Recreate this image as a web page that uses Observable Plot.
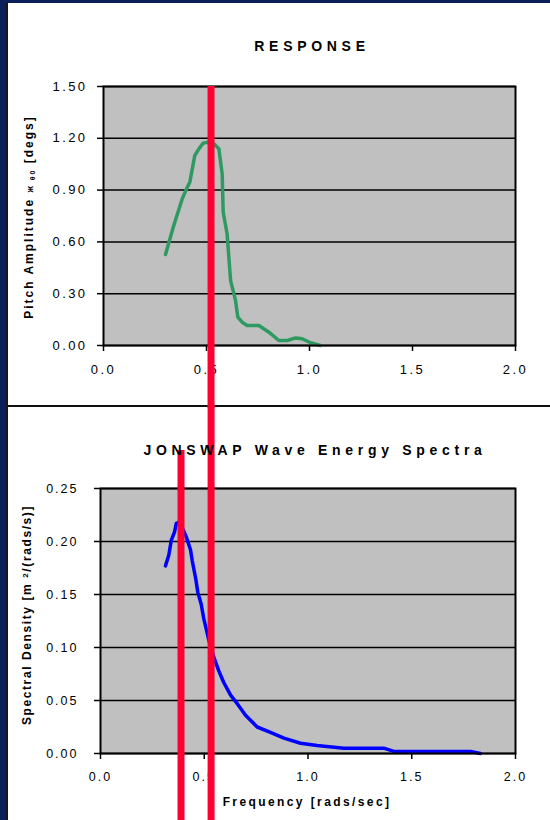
<!DOCTYPE html>
<html><head><meta charset="utf-8">
<script src="https://cdn.jsdelivr.net/npm/d3@7"></script>
<script src="https://cdn.jsdelivr.net/npm/@observablehq/plot@0.6"></script>
<style>
html,body{margin:0;padding:0;background:#0a1e5a;width:550px;height:820px;overflow:hidden;}
#panel{position:absolute;left:6px;top:3px;width:544px;height:817px;background:#fff;border-left:2px solid #161616;box-sizing:border-box;}
#topChart{position:absolute;left:0;top:0;width:542px;height:402px;z-index:2;}
#divider{position:absolute;left:0;top:402px;width:542px;height:2px;background:#111;z-index:1;}
#bottomChart{position:absolute;left:0;top:404px;width:542px;height:413px;z-index:3;}
svg{overflow:visible !important;}
#topChart svg text{letter-spacing:2.4px;}
#bottomChart svg text{letter-spacing:2px;}
</style>
</head><body>
<div id="panel">
  <div id="topChart"></div>
  <div id="divider"></div>
  <div id="bottomChart"></div>
</div>
<script>
// ---- data ----
const freqTicks = [0, 0.5, 1.0, 1.5, 2.0];
const pitchTicks = [0, 0.3, 0.6, 0.9, 1.2, 1.5];
const spectrumTicks = [0, 0.05, 0.10, 0.15, 0.20, 0.25];

const pitchFreq = [0.301,0.341,0.382,0.403,0.419,0.443,0.463,0.484,0.506,0.536,0.560,0.576,0.581,0.600,0.617,0.641,0.652,0.673,0.697,0.754,0.803,0.851,0.892,0.932,0.964,1.005,1.053];
const pitchAmp  = [0.527,0.695,0.849,0.907,0.946,1.100,1.139,1.172,1.177,1.168,1.139,0.994,0.772,0.647,0.376,0.261,0.164,0.135,0.116,0.116,0.077,0.029,0.029,0.044,0.039,0.016,0.000];

const specFreq    = [0.313,0.329,0.341,0.357,0.365,0.377,0.394,0.414,0.434,0.442,0.458,0.469,0.485,0.498,0.522,0.546,0.570,0.594,0.627,0.659,0.699,0.755,0.819,0.884,0.964,1.044,1.173,1.365,1.414,1.783,1.831];
const specDensity = [0.177,0.187,0.201,0.209,0.217,0.218,0.213,0.204,0.192,0.182,0.166,0.152,0.141,0.127,0.107,0.091,0.078,0.067,0.055,0.047,0.036,0.025,0.020,0.0145,0.0097,0.0075,0.005,0.005,0.002,0.002,0.000];

const topMarker = [0.522];          // frequency marked on the response chart
const bottomMarkers = [0.533];      // same frequency on the spectrum chart
const peakMarker = [0.388];         // spectral peak frequency

const pitchData = pitchFreq.map((f, i) => ({f, a: pitchAmp[i]}));
const specData = specFreq.map((f, i) => ({f, s: specDensity[i]}));

const RED = "#ff0033", GREEN = "#2e9a62", BLUE = "#0000ff", GRAY = "#c0c0c0";
const FONT = "'Liberation Sans', Arial, sans-serif";
const baseStyle = {fontFamily: FONT, fontSize: "13px", color: "#000", background: "transparent", overflow: "visible"};

// ---- top chart ----
const topPlot = Plot.plot({
  width: 542, height: 402,
  marginLeft: 95, marginRight: 35, marginTop: 83, marginBottom: 60,
  style: baseStyle,
  x: {domain: [0, 2], label: null},
  y: {domain: [0, 1.5], label: null},
  marks: [
    Plot.frame({fill: GRAY, stroke: null}),
    Plot.gridY(pitchTicks, {stroke: "#000", strokeOpacity: 1, strokeWidth: 1.5}),
    Plot.axisY(pitchTicks, {tickSize: 6, tickPadding: 10, tickFormat: d => d.toFixed(2), label: null, strokeWidth: 1.5, fontSize: 13}),
    Plot.axisX(freqTicks, {tickSize: 6, tickPadding: 13, tickFormat: d => d.toFixed(1), label: null, strokeWidth: 1.5, fontSize: 13}),
    Plot.line(pitchData, {x: "f", y: "a", stroke: GREEN, strokeWidth: 3.5}),
    Plot.frame({stroke: "#000", strokeWidth: 2}),
    Plot.ruleX(topMarker, {stroke: RED, strokeWidth: 7, insetBottom: -63})
  ]
});
document.getElementById("topChart").appendChild(topPlot);

// ---- bottom chart ----
const bottomPlot = Plot.plot({
  width: 542, height: 413,
  marginLeft: 92, marginRight: 35, marginTop: 81, marginBottom: 67,
  style: baseStyle,
  x: {domain: [0, 2], label: null},
  y: {domain: [0, 0.25], label: null},
  marks: [
    Plot.frame({fill: GRAY, stroke: null}),
    Plot.gridY(spectrumTicks, {stroke: "#000", strokeOpacity: 1, strokeWidth: 1.5}),
    Plot.axisY(spectrumTicks, {tickSize: 6, tickPadding: 16, tickFormat: d => d.toFixed(2), label: null, strokeWidth: 1.5, fontSize: 12.5}),
    Plot.axisX(freqTicks, {tickSize: 6, tickPadding: 13, tickFormat: d => d.toFixed(1), label: null, strokeWidth: 1.5, fontSize: 12.5}),
    Plot.line(specData, {x: "f", y: "s", stroke: BLUE, strokeWidth: 3.5}),
    Plot.frame({stroke: "#000", strokeWidth: 2}),
    Plot.ruleX(bottomMarkers, {stroke: RED, strokeWidth: 7, insetTop: -83, insetBottom: -67}),
    Plot.ruleX(peakMarker, {stroke: RED, strokeWidth: 7, insetTop: -38, insetBottom: -67})
  ]
});
document.getElementById("bottomChart").appendChild(bottomPlot);

// ---- titles and axis labels (real text) ----
function title(svg, x, y, txt) {
  d3.select(svg).append("text")
    .attr("x", x).attr("y", y).attr("text-anchor", "middle")
    .attr("font-weight", "bold").attr("font-size", 14).attr("font-family", FONT)
    .style("letter-spacing", "4.7px").attr("fill", "#000").text(txt);
}
title(topPlot, 304, 48, "RESPONSE");
title(bottomPlot, 307, 48, "JONSWAP Wave Energy Spectra");

const yl1 = d3.select(topPlot).append("text")
  .attr("transform", "translate(25,214) rotate(-90)")
  .attr("text-anchor", "middle").attr("font-weight", "bold").attr("font-size", 12)
  .attr("font-family", FONT).style("letter-spacing", "2px").attr("fill", "#000");
yl1.append("tspan").text("Pitch Amplitude ");
yl1.append("tspan").attr("font-size", 9).text("ж");
yl1.append("tspan").attr("font-size", 7).attr("dy", 2).text(" θ0");
yl1.append("tspan").attr("dy", -2).text(" [degs]");

const yl2 = d3.select(bottomPlot).append("text")
  .attr("transform", "translate(23,208) rotate(-90)")
  .attr("text-anchor", "middle").attr("font-weight", "bold").attr("font-size", 12)
  .attr("font-family", FONT).style("letter-spacing", "1.6px").attr("fill", "#000");
yl2.append("tspan").text("Spectral Density [m ");
yl2.append("tspan").attr("font-size", 8).attr("dy", -3).text("2");
yl2.append("tspan").attr("dy", 3).text("/(rads/s)]");

d3.select(bottomPlot).append("text")
  .attr("x", 299).attr("y", 399).attr("text-anchor", "middle")
  .attr("font-weight", "bold").attr("font-size", 12).attr("font-family", FONT)
  .style("letter-spacing", "2.4px").attr("fill", "#000").text("Frequency [rads/sec]");
</script>
</body></html>
